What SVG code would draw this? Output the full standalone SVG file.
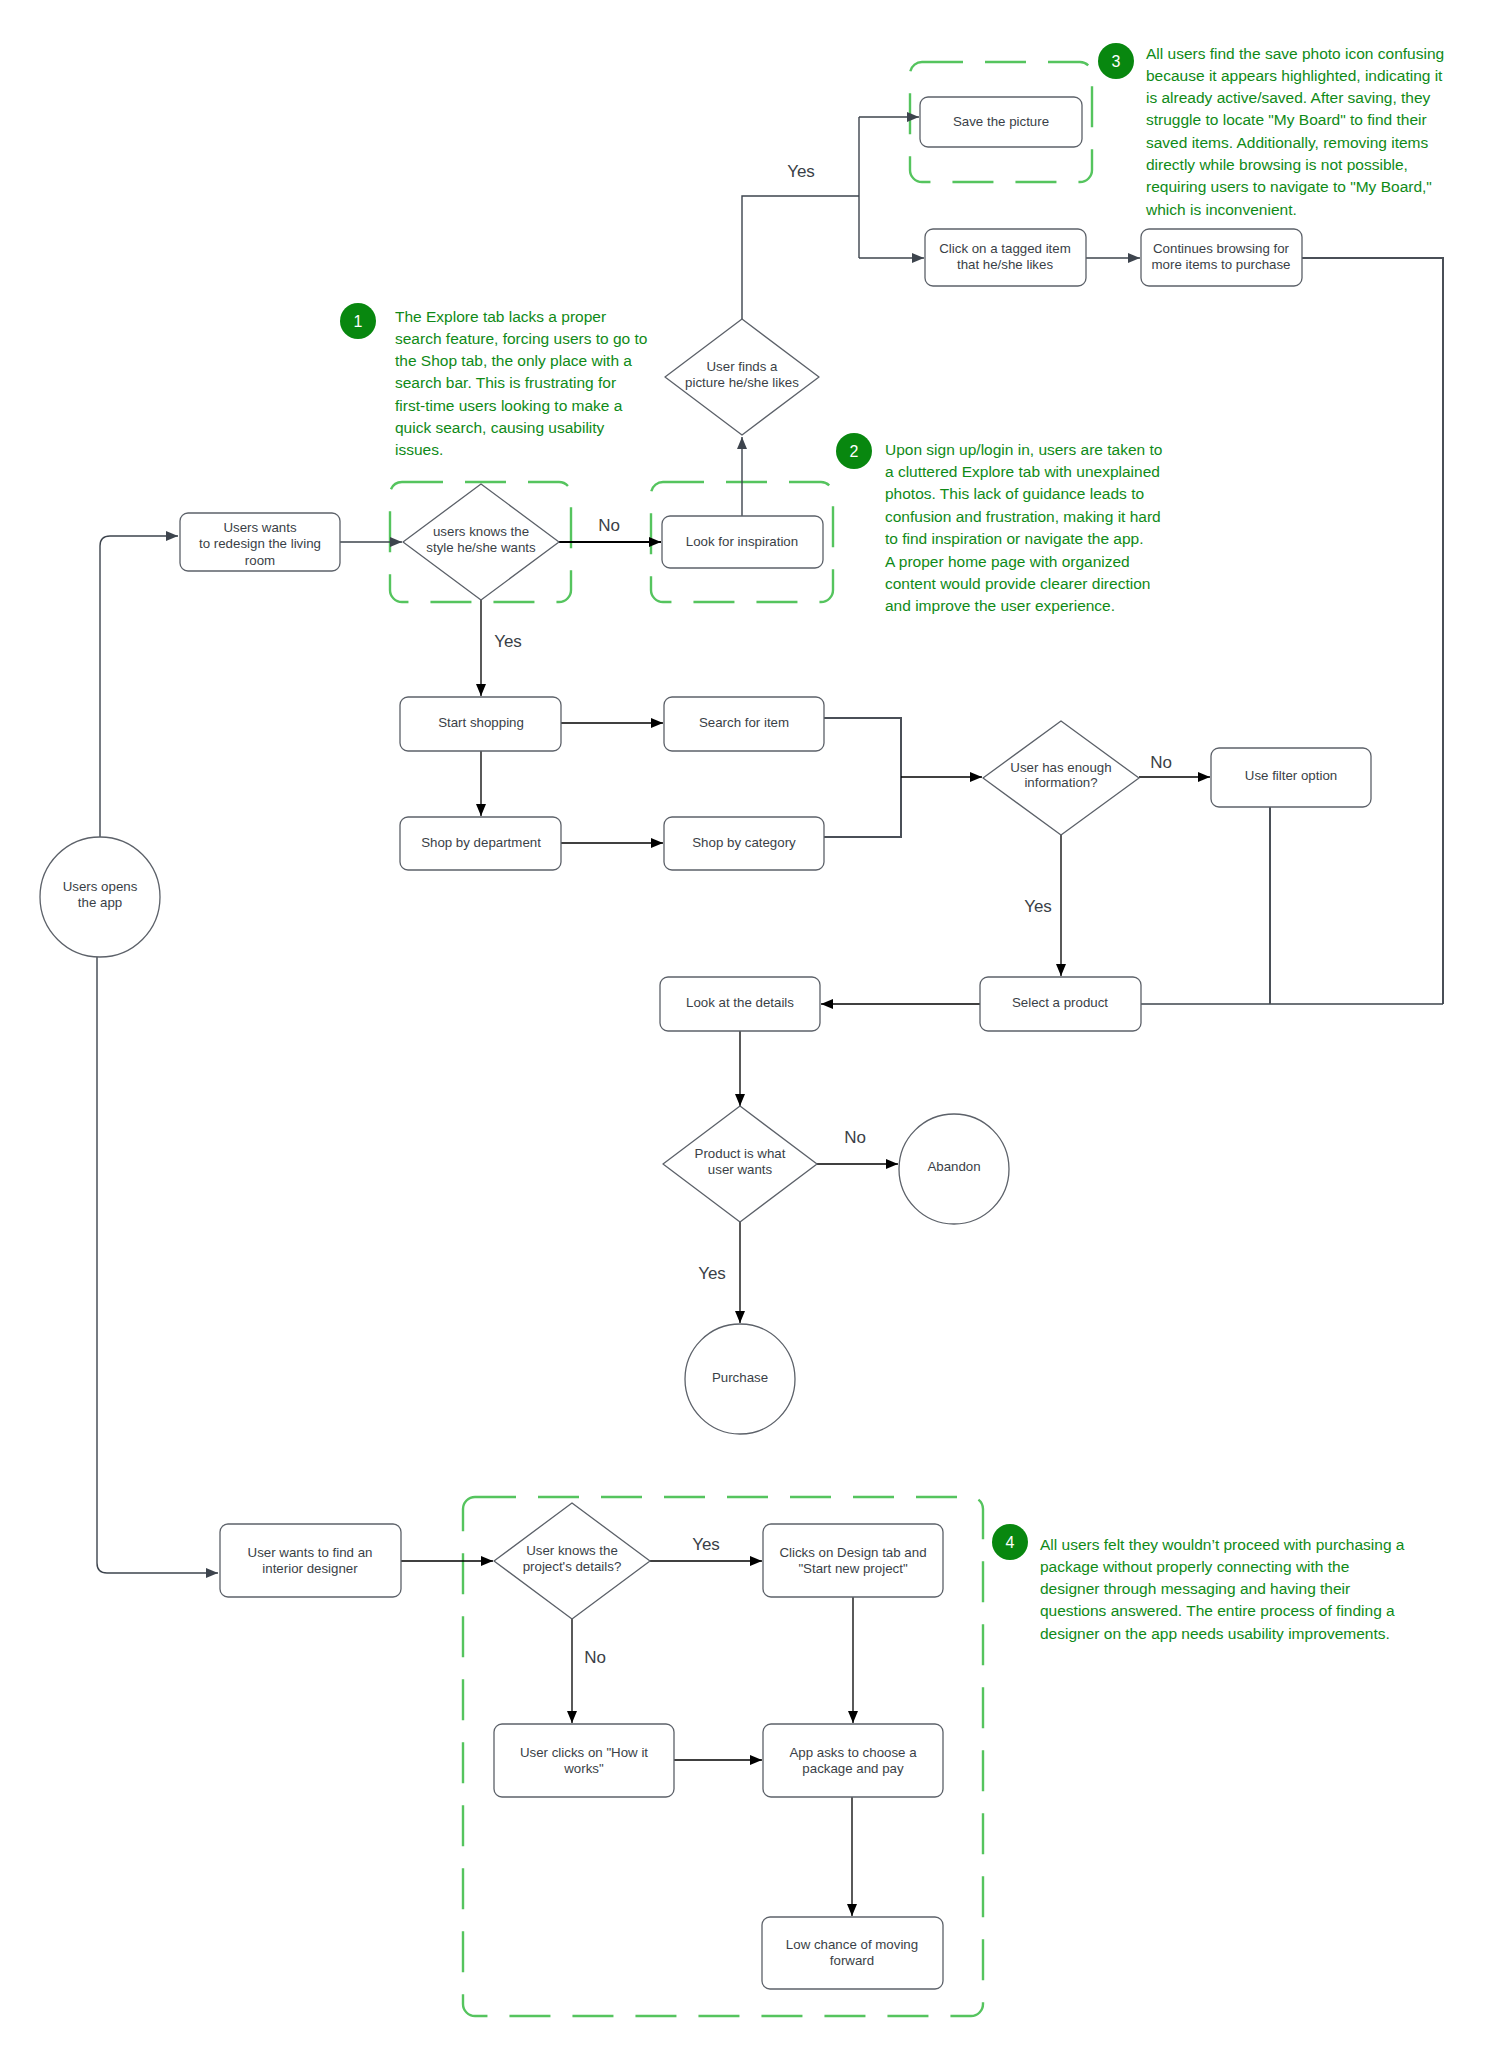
<svg xmlns="http://www.w3.org/2000/svg" width="1500" height="2057" viewBox="0 0 1500 2057">
<defs>
<style>
.node{fill:#fff;stroke:#5c6169;stroke-width:1.3}
.t{font-family:"Liberation Sans",Arial,sans-serif;font-size:13.3px;fill:#3a3f47;text-anchor:middle}
.lbl{font-family:"Liberation Sans",Arial,sans-serif;font-size:17px;fill:#3a3f47;text-anchor:middle}
.note{font-family:"Liberation Sans",Arial,sans-serif;font-size:15.5px;fill:#0f8a17}
.num{font-family:"Liberation Sans",Arial,sans-serif;font-size:16px;fill:#fff;text-anchor:middle}
.badge{fill:#08870f}
.grp{fill:none;stroke:#55c45e;stroke-width:2.4;stroke-dasharray:41 22}
.c{fill:none;stroke:#000;stroke-width:1.3}
.cs{fill:none;stroke:#3d444d;stroke-width:1.4}
.cb{fill:none;stroke:#4a4f57;stroke-width:2}
</style>
<marker id="ab" markerUnits="userSpaceOnUse" markerWidth="12" markerHeight="10" refX="12" refY="5" orient="auto"><path d="M0,0 L12,5 L0,10 z" fill="#000"/></marker>
<marker id="as" markerUnits="userSpaceOnUse" markerWidth="12" markerHeight="10" refX="12" refY="5" orient="auto"><path d="M0,0 L12,5 L0,10 z" fill="#3d444d"/></marker>
</defs>
<rect width="1500" height="2057" fill="#fff"/>

<g id="groups">
<rect class="grp" x="390" y="482" width="181" height="120" rx="12"/>
<rect class="grp" x="651" y="482" width="182" height="120" rx="12"/>
<rect class="grp" x="910" y="62" width="182" height="120" rx="12"/>
<rect class="grp" x="463" y="1497" width="520" height="519" rx="12"/>
</g>

<g id="connectors">
<path class="cs" d="M100,837 V546 Q100,536 110,536 H178" marker-end="url(#as)"/>
<path class="cs" d="M97,957 V1563 Q97,1573 107,1573 H218" marker-end="url(#as)"/>
<path class="cs" d="M340,542 H402" marker-end="url(#as)"/>
<path fill="none" stroke="#000" stroke-width="2.2" d="M559,542 H661" marker-end="url(#ab)"/>
<path class="cs" d="M742,516 V437" marker-end="url(#as)"/>
<path class="cs" d="M742,319 V196 H859"/>
<path class="cs" d="M859,117 V258"/>
<path class="cs" d="M859,117 H919" marker-end="url(#as)"/>
<path class="cs" d="M859,258 H924" marker-end="url(#as)"/>
<path class="cs" d="M1086,258 H1140" marker-end="url(#as)"/>
<path class="cb" d="M1302,258 H1443 V1004"/>
<path class="cs" d="M1141,1004 H1443"/>
<path class="cb" d="M1270,807 V1004"/>
<path class="c" d="M980,1004 H821" marker-end="url(#ab)"/>
<path class="c" d="M481,600 V696" marker-end="url(#ab)"/>
<path class="c" d="M561,723 H663" marker-end="url(#ab)"/>
<path class="c" d="M481,751 V816" marker-end="url(#ab)"/>
<path class="c" d="M561,843 H663" marker-end="url(#ab)"/>
<path class="cb" d="M824,718 H901 V837 H824"/>
<path class="c" d="M901,777 H982" marker-end="url(#ab)"/>
<path class="c" d="M1139,777 H1210" marker-end="url(#ab)"/>
<path class="c" d="M1061,835 V976" marker-end="url(#ab)"/>
<path class="c" d="M740,1031 V1106" marker-end="url(#ab)"/>
<path class="c" d="M817,1164 H898" marker-end="url(#ab)"/>
<path class="c" d="M740,1222 V1323" marker-end="url(#ab)"/>
<path class="c" d="M401,1561 H493" marker-end="url(#ab)"/>
<path class="c" d="M650,1561 H762" marker-end="url(#ab)"/>
<path class="c" d="M572,1619 V1723" marker-end="url(#ab)"/>
<path class="c" d="M853,1597 V1723" marker-end="url(#ab)"/>
<path class="c" d="M674,1760 H762" marker-end="url(#ab)"/>
<path class="c" d="M852,1797 V1916" marker-end="url(#ab)"/>
</g>

<g id="labels">
<text class="lbl" x="801" y="177">Yes</text>
<text class="lbl" x="609" y="531">No</text>
<text class="lbl" x="508" y="647">Yes</text>
<text class="lbl" x="1161" y="768">No</text>
<text class="lbl" x="1038" y="912">Yes</text>
<text class="lbl" x="855" y="1143">No</text>
<text class="lbl" x="712" y="1279">Yes</text>
<text class="lbl" x="706" y="1550">Yes</text>
<text class="lbl" x="595" y="1663">No</text>
</g>

<g id="n-opens"><circle class="node" cx="100" cy="897" r="60"/><text class="t" x="100" y="891">Users opens</text><text class="t" x="100" y="907">the app</text></g>
<g id="n-redesign"><rect class="node" x="180" y="513" width="160" height="58" rx="8"/><text class="t" x="260" y="532">Users wants</text><text class="t" x="260" y="548">to redesign the living</text><text class="t" x="260" y="565">room</text></g>
<g id="n-knowsstyle"><polygon class="node" stroke-linejoin="round" points="481,484 559,542 481,600 403,542"/><text class="t" x="481" y="536">users knows the</text><text class="t" x="481" y="552">style he/she wants</text></g>
<g id="n-inspiration"><rect class="node" x="662" y="516" width="161" height="52" rx="8"/><text class="t" x="742" y="546">Look for inspiration</text></g>
<g id="n-finds"><polygon class="node" stroke-linejoin="round" points="742,319 819,377 742,435 665,377"/><text class="t" x="742" y="371">User finds a</text><text class="t" x="742" y="387">picture he/she likes</text></g>
<g id="n-save"><rect class="node" x="920" y="97" width="162" height="50" rx="8"/><text class="t" x="1001" y="126">Save the picture</text></g>
<g id="n-click"><rect class="node" x="925" y="229" width="161" height="57" rx="8"/><text class="t" x="1005" y="253">Click on a tagged item</text><text class="t" x="1005" y="269">that he/she likes</text></g>
<g id="n-continues"><rect class="node" x="1141" y="229" width="161" height="57" rx="8"/><text class="t" x="1221" y="253">Continues browsing for</text><text class="t" x="1221" y="269">more items to purchase</text></g>
<g id="n-start"><rect class="node" x="400" y="697" width="161" height="54" rx="8"/><text class="t" x="481" y="727">Start shopping</text></g>
<g id="n-search"><rect class="node" x="664" y="697" width="160" height="54" rx="8"/><text class="t" x="744" y="727">Search for item</text></g>
<g id="n-dept"><rect class="node" x="400" y="817" width="161" height="53" rx="8"/><text class="t" x="481" y="847">Shop by department</text></g>
<g id="n-category"><rect class="node" x="664" y="817" width="160" height="53" rx="8"/><text class="t" x="744" y="847">Shop by category</text></g>
<g id="n-enough"><polygon class="node" stroke-linejoin="round" points="1061,721 1139,778 1061,835 983,778"/><text class="t" x="1061" y="772">User has enough</text><text class="t" x="1061" y="787">information?</text></g>
<g id="n-filter"><rect class="node" x="1211" y="748" width="160" height="59" rx="8"/><text class="t" x="1291" y="780">Use filter option</text></g>
<g id="n-select"><rect class="node" x="980" y="977" width="161" height="54" rx="8"/><text class="t" x="1060" y="1007">Select a product</text></g>
<g id="n-details"><rect class="node" x="660" y="977" width="160" height="54" rx="8"/><text class="t" x="740" y="1007">Look at the details</text></g>
<g id="n-productwhat"><polygon class="node" stroke-linejoin="round" points="740,1106 817,1164 740,1222 663,1164"/><text class="t" x="740" y="1158">Product is what</text><text class="t" x="740" y="1174">user wants</text></g>
<g id="n-abandon"><circle class="node" cx="954" cy="1169" r="55"/><text class="t" x="954" y="1171">Abandon</text></g>
<g id="n-purchase"><circle class="node" cx="740" cy="1379" r="55"/><text class="t" x="740" y="1382">Purchase</text></g>
<g id="n-designer"><rect class="node" x="220" y="1524" width="181" height="73" rx="8"/><text class="t" x="310" y="1557">User wants to find  an</text><text class="t" x="310" y="1573">interior designer</text></g>
<g id="n-knowsproject"><polygon class="node" stroke-linejoin="round" points="572,1503 650,1561 572,1619 494,1561"/><text class="t" x="572" y="1555">User knows the</text><text class="t" x="572" y="1571">project's details?</text></g>
<g id="n-clicksdesign"><rect class="node" x="763" y="1524" width="180" height="73" rx="8"/><text class="t" x="853" y="1557">Clicks on Design tab and</text><text class="t" x="853" y="1573">"Start new project"</text></g>
<g id="n-howitworks"><rect class="node" x="494" y="1724" width="180" height="73" rx="8"/><text class="t" x="584" y="1757">User clicks on "How it</text><text class="t" x="584" y="1773">works"</text></g>
<g id="n-package"><rect class="node" x="763" y="1724" width="180" height="73" rx="8"/><text class="t" x="853" y="1757">App asks to choose a</text><text class="t" x="853" y="1773">package and pay</text></g>
<g id="n-lowchance"><rect class="node" x="762" y="1917" width="181" height="72" rx="8"/><text class="t" x="852" y="1949">Low chance of moving</text><text class="t" x="852" y="1965">forward</text></g>

<g id="note1"><circle class="badge" cx="358" cy="321" r="18"/><text class="num" x="358" y="327">1</text>
<text class="note" x="395"><tspan x="395" y="321.5">The Explore tab lacks a proper</tspan><tspan x="395" y="343.8">search feature, forcing users to go to</tspan><tspan x="395" y="366.1">the Shop tab, the only place with a</tspan><tspan x="395" y="388.4">search bar. This is frustrating for</tspan><tspan x="395" y="410.7">first-time users looking to make a</tspan><tspan x="395" y="433">quick search, causing usability</tspan><tspan x="395" y="455.3">issues.</tspan></text></g>
<g id="note2"><circle class="badge" cx="854" cy="451" r="18"/><text class="num" x="854" y="457">2</text>
<text class="note" x="885"><tspan x="885" y="454.5">Upon sign up/login in, users are taken to</tspan><tspan x="885" y="476.9">a cluttered Explore tab with unexplained</tspan><tspan x="885" y="499.3">photos. This lack of guidance leads to</tspan><tspan x="885" y="521.7">confusion and frustration, making it hard</tspan><tspan x="885" y="544.1">to find inspiration or navigate the app.</tspan><tspan x="885" y="566.5">A proper home page with organized</tspan><tspan x="885" y="588.9">content would provide clearer direction</tspan><tspan x="885" y="611.3">and improve the user experience.</tspan></text></g>
<g id="note3"><circle class="badge" cx="1116" cy="61" r="18"/><text class="num" x="1116" y="67">3</text>
<text class="note" x="1146"><tspan x="1146" y="58.5">All users find the save photo icon confusing</tspan><tspan x="1146" y="80.8">because it appears highlighted, indicating it</tspan><tspan x="1146" y="103.1">is already active/saved. After saving, they</tspan><tspan x="1146" y="125.4">struggle to locate "My Board" to find their</tspan><tspan x="1146" y="147.7">saved items. Additionally, removing items</tspan><tspan x="1146" y="170">directly while browsing is not possible,</tspan><tspan x="1146" y="192.3">requiring users to navigate to "My Board,"</tspan><tspan x="1146" y="214.6">which is inconvenient.</tspan></text></g>
<g id="note4"><circle class="badge" cx="1010" cy="1542" r="18"/><text class="num" x="1010" y="1548">4</text>
<text class="note" x="1040"><tspan x="1040" y="1549.5">All users felt they wouldn’t proceed with purchasing a</tspan><tspan x="1040" y="1571.8">package without properly connecting with the</tspan><tspan x="1040" y="1594.1">designer through messaging and having their</tspan><tspan x="1040" y="1616.4">questions answered. The entire process of finding a</tspan><tspan x="1040" y="1638.7">designer on the app needs usability improvements.</tspan></text></g>
</svg>
